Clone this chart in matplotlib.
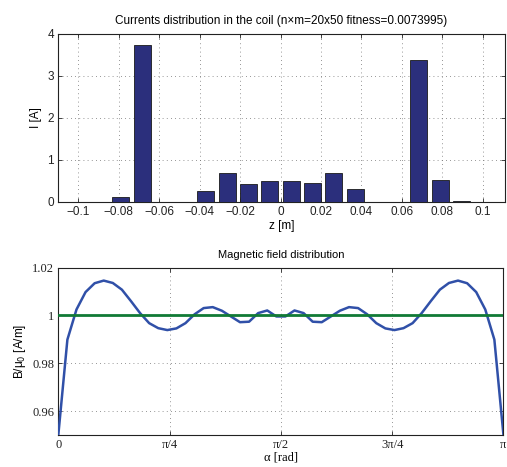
import numpy as np
import matplotlib
matplotlib.use('Agg')
import matplotlib.pyplot as plt

# currents in the 20 coil sections
z = np.linspace(-0.1, 0.1, 20)
current = [0.0, 0.005, 0.11, 3.74, 0.0, 0.0, 0.27, 0.70, 0.43, 0.50,
           0.50, 0.44, 0.69, 0.30, 0.0, 0.0, 3.38, 0.52, 0.02, 0.0]

# field along the arc, 50 points, symmetric about pi/2
half_field = [0.950, 0.9899, 1.0025, 1.0098, 1.0135, 1.0146, 1.0136, 1.0108,
              1.0060, 1.0010, 0.9968, 0.9947, 0.9939, 0.9946, 0.9968, 1.0005,
              1.0031, 1.0035, 1.0020, 0.9996, 0.9972, 0.9974, 1.0010, 1.0021,
              0.9996]
field = half_field + half_field[::-1]
alpha = np.linspace(0, np.pi, len(field))
target = [1.0, 1.0]
target_alpha = [0, np.pi]

sans = ['Liberation Sans', 'DejaVu Sans']
serif = ['Liberation Serif', 'DejaVu Serif']
plt.rcParams['font.family'] = sans
plt.rcParams['font.size'] = 8.5
plt.rcParams['axes.linewidth'] = 0.8

fig = plt.figure(figsize=(5.07, 4.67), dpi=100)

ax1 = fig.add_axes([0.1144, 0.5675, 0.8817, 0.3597])
ax1.bar(z, current, width=0.2 / 19 * 0.8, color='#2b2f7c', edgecolor='#1a1a1a',
        linewidth=0.6, zorder=3)
ax1.set_xlim(-0.11, 0.111)
ax1.set_ylim(0, 4)
ax1.set_xticks([-0.1, -0.08, -0.06, -0.04, -0.02, 0, 0.02, 0.04, 0.06, 0.08, 0.1])
ax1.set_xticklabels(['\u22120.1', '\u22120.08', '\u22120.06', '\u22120.04', '\u22120.02',
                     '0', '0.02', '0.04', '0.06', '0.08', '0.1'])
ax1.set_yticks([0, 1, 2, 3, 4])
ax1.set_xlabel('z [m]', labelpad=1)
ax1.set_ylabel('I [A]', labelpad=4)
ax1.set_title('Currents distribution in the coil (n\u00d7m=20x50 fitness=0.0073995)',
              fontsize=8.5, pad=7)

ax2 = fig.add_axes([0.115, 0.0685, 0.878, 0.3583])
ax2.plot(alpha, field, color='#3050a8', linewidth=1.8, zorder=3)
ax2.plot(target_alpha, target, color='#117a35', linewidth=2.0, zorder=4)
ax2.set_xlim(0, np.pi)
ax2.set_ylim(0.95, 1.02)
ax2.set_xticks([0, np.pi / 4, np.pi / 2, 3 * np.pi / 4, np.pi])
ax2.set_xticklabels(['0', '\u03c0/4', '\u03c0/2', '3\u03c0/4', '\u03c0'])
ax2.set_yticks([0.96, 0.98, 1.0, 1.02])
ax2.set_yticklabels(['0.96', '0.98', '1', '1.02'])
for lab in ax2.get_xticklabels() + ax2.get_yticklabels():
    lab.set_family(serif)
    lab.set_fontsize(9)
ax2.set_xlabel('\u03b1 [rad]', family=serif, fontsize=9, labelpad=0)
ax2.set_ylabel('B/\u03bc$_0$ [A/m]', labelpad=3)
ax2.set_title('Magnetic field distribution', fontsize=8, pad=7)

for ax in (ax1, ax2):
    ax.grid(True, linestyle=(0, (1, 4)), color='0.45', linewidth=0.6)
    ax.set_axisbelow(True)
    ax.tick_params(direction='in', length=3, width=0.6, top=True, right=True,
                   pad=3, colors='#222222')
    for s in ax.spines.values():
        s.set_color('#222222')

fig.savefig('out.png', dpi=100)
